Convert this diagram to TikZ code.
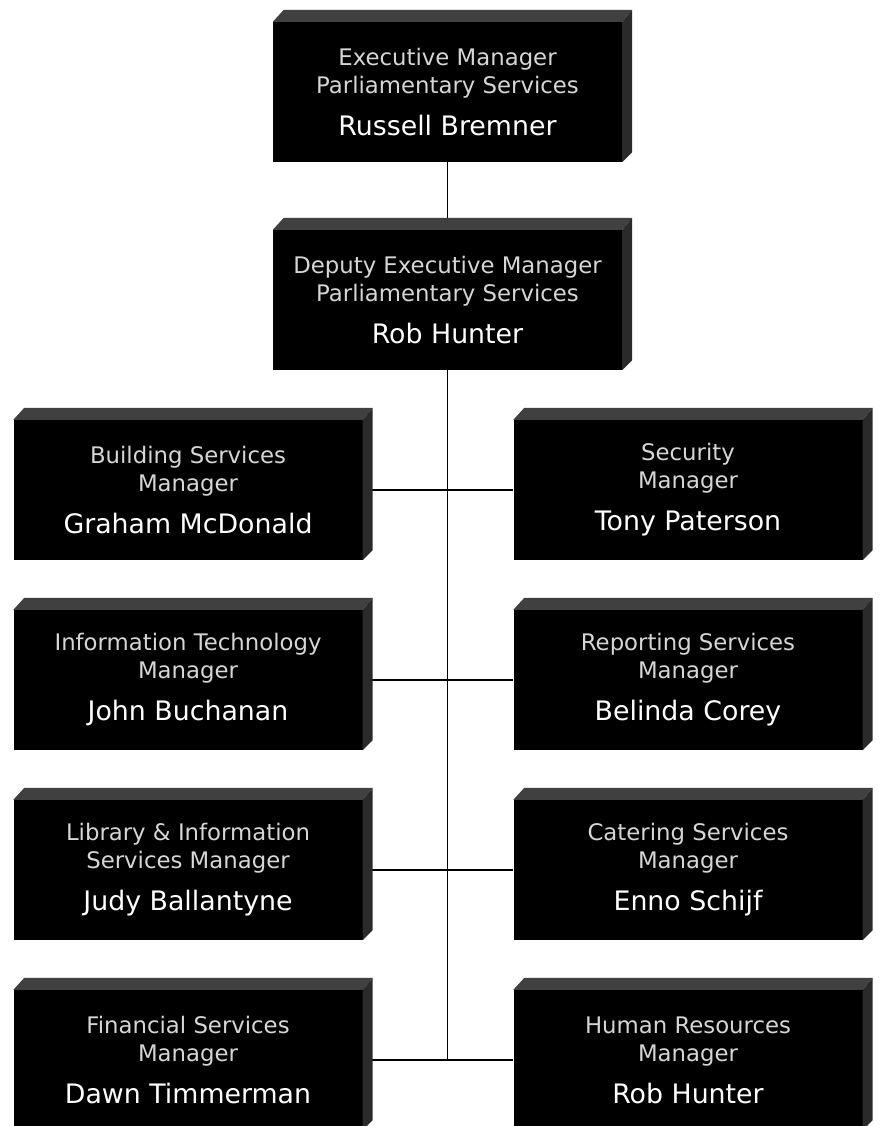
\documentclass[tikz,border=0pt]{standalone}
\usepackage{fontspec}
\setmainfont{DejaVu Sans}
\definecolor{titlegray}{RGB}{214,214,214}
\definecolor{topgray}{RGB}{64,64,64}
\definecolor{sidegray}{RGB}{42,42,42}
\newcommand{\who}[1]{{\fontsize{26.8}{28}\selectfont\color{white}#1}}

\begin{document}
\begin{tikzpicture}[x=1pt,y=-1pt,
	mgrbox/.style={fill=black, text=titlegray, align=center, inner sep=0pt,
		minimum width=349pt, minimum height=140pt,
		font=\fontsize{22.8}{28}\selectfont},
	link/.style={line width=1.3pt}]
	\useasboundingbox (0,0) rectangle (880,1126);
	% top two boxes
	\node[mgrbox] (exec) at (447.5,92) {Executive Manager\\Parliamentary Services\\[14pt]\who{Russell Bremner}};
	\node[mgrbox] (deputy) at (447.5,300) {Deputy Executive Manager\\Parliamentary Services\\[14pt]\who{Rob Hunter}};
	% left column
	\node[mgrbox] (build) at (188,490) {Building Services\\Manager\\[14pt]\who{Graham McDonald}};
	\node[mgrbox] (infot) at (188,680) {Information Technology\\Manager\\[14pt]\who{John Buchanan}};
	\node[mgrbox] (libry) at (188,870) {Library \& Information\\Services Manager\\[14pt]\who{Judy Ballantyne}};
	\node[mgrbox] (finan) at (188,1060) {Financial Services\\Manager\\[14pt]\who{Dawn Timmerman}};
	% right column
	\node[mgrbox] (secur) at (688,490) {Security\\Manager\\[14pt]\who{Tony Paterson}};
	\node[mgrbox] (report) at (688,680) {Reporting Services\\Manager\\[14pt]\who{Belinda Corey}};
	\node[mgrbox] (cater) at (688,870) {Catering Services\\Manager\\[14pt]\who{Enno Schijf}};
	\node[mgrbox] (human) at (688,1060) {Human Resources\\Manager\\[14pt]\who{Rob Hunter}};

	% lines
	\coordinate (trunkend) at (deputy.south |- finan.east);
	\draw[link] (exec) -- (deputy);
	\draw[link] (deputy) -- (trunkend);
	\foreach \l/\r in {build/secur, infot/report, libry/cater, finan/human}{
		\draw[link] (\l) -- (\r);
	}

	% bevelled top and side
	\foreach \b in {exec, deputy, build, infot, libry, finan, secur, report, cater, human}{
		\fill[topgray] (\b.north west) -- ++(11pt,12pt) -- ([shift={(10pt,12pt)}]\b.north east) -- (\b.north east) -- cycle;
		\fill[sidegray] (\b.north east) -- ++(10pt,12pt) -- ([shift={(10pt,10pt)}]\b.south east) -- (\b.south east) -- cycle;
	}
\end{tikzpicture}
\end{document}
